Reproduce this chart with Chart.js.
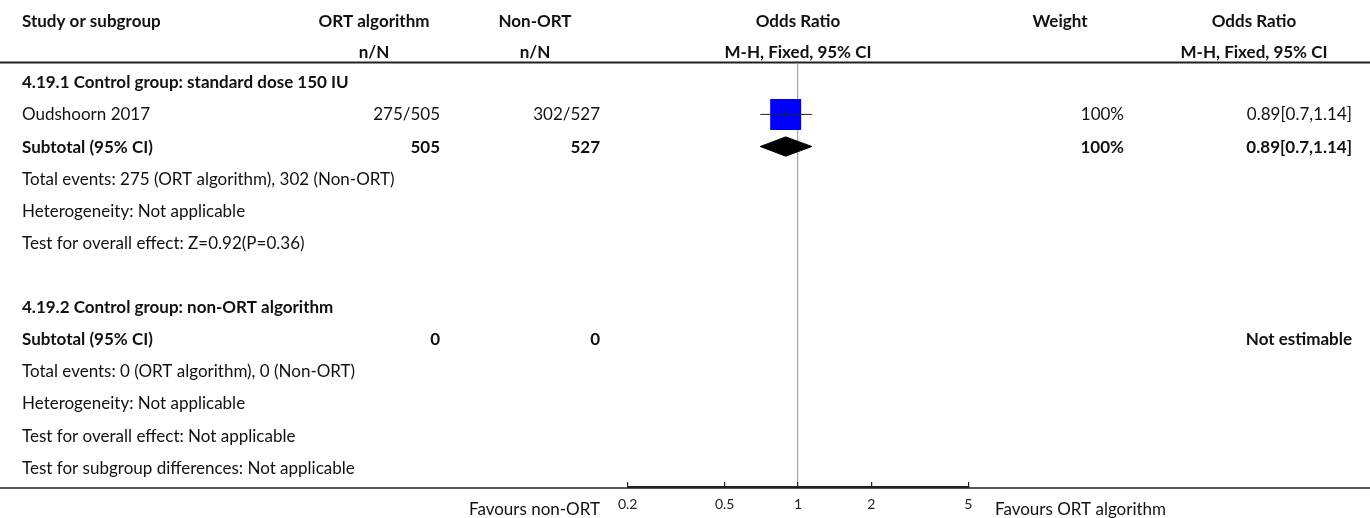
<!DOCTYPE html>
<html>
<head>
<meta charset="utf-8">
<script src="https://cdn.jsdelivr.net/npm/chart.js@4.4.0/dist/chart.umd.min.js"></script>
<style>
  body { margin: 0; background: #fff; }
  #wrap { width: 1370px; height: 518px; position: relative; }
</style>
</head>
<body>
<div id="wrap"><canvas id="forest"></canvas></div>
<script>
// table rows, top to bottom
var rowLabels = [
  "4.19.1 Control group: standard dose 150 IU",
  "Oudshoorn 2017",
  "Subtotal (95% CI)",
  "Total events: 275 (ORT algorithm), 302 (Non-ORT)",
  "Heterogeneity: Not applicable",
  "Test for overall effect: Z=0.92(P=0.36)",
  "",
  "4.19.2 Control group: non-ORT algorithm",
  "Subtotal (95% CI)",
  "Total events: 0 (ORT algorithm), 0 (Non-ORT)",
  "Heterogeneity: Not applicable",
  "Test for overall effect: Not applicable",
  "Test for subgroup differences: Not applicable"
];
var rowBold = [true, false, true, false, false, false, false, true, true, false, false, false, false];
var ortCounts    = ["", "275/505", "505", "", "", "", "", "", "0", "", "", "", ""];
var nonOrtCounts = ["", "302/527", "527", "", "", "", "", "", "0", "", "", "", ""];
var weights      = ["", "100%", "100%", "", "", "", "", "", "", "", "", "", ""];
var orTexts      = ["", "0.89[0.7,1.14]", "0.89[0.7,1.14]", "", "", "", "", "", "Not estimable", "", "", "", ""];

// single studies
var studyRows = [1];
var studyOR = [0.89];
var studyLow = [0.7];
var studyHigh = [1.14];
var studyWeight = [100];

// pooled (subtotal) estimates
var totalRows = [2];
var totalOR = [0.89];
var totalLow = [0.7];
var totalHigh = [1.14];

var tickValues = [0.2, 0.5, 1, 2, 5];
var tickLabels = ["0.2", "0.5", "1", "2", "5"];

var FONT = "Lato, 'Noto Sans', sans-serif";
var FS = 17;

function txt(ctx, s, x, y, align, bold, size) {
  size = size || FS;
  ctx.font = (bold ? "bold " : "") + size + "px " + FONT;
  ctx.textAlign = align;
  ctx.textBaseline = "alphabetic";
  ctx.fillStyle = "#111";
  ctx.fillText(s, x, y + Math.round(size * 0.36));
}

var tablePlugin = {
  id: "forestTable",
  beforeDraw: function (chart) {
    var ctx = chart.ctx, w = chart.width;
    ctx.save();
    ctx.strokeStyle = "#222";
    ctx.lineWidth = 2;
    ctx.beginPath(); ctx.moveTo(0, 62.5); ctx.lineTo(w, 62.5); ctx.stroke();
    ctx.lineWidth = 1.5;
    ctx.beginPath(); ctx.moveTo(0, chart.chartArea.bottom + 1); ctx.lineTo(w, chart.chartArea.bottom + 1); ctx.stroke();
    ctx.restore();
  },
  afterDraw: function (chart) {
    var ctx = chart.ctx, y = chart.scales.y, x = chart.scales.x;
    var mid = x.getPixelForValue(1);
    ctx.save();
    // header
    txt(ctx, "Study or subgroup", 22, 21, "left", true);
    txt(ctx, "ORT algorithm", 374, 21, "center", true);
    txt(ctx, "n/N", 374, 52, "center", true);
    txt(ctx, "Non-ORT", 535, 21, "center", true);
    txt(ctx, "n/N", 535, 52, "center", true);
    txt(ctx, "Odds Ratio", mid, 21, "center", true);
    txt(ctx, "M-H, Fixed, 95% CI", mid, 52, "center", true);
    txt(ctx, "Weight", 1060, 21, "center", true);
    txt(ctx, "Odds Ratio", 1254, 21, "center", true);
    txt(ctx, "M-H, Fixed, 95% CI", 1254, 52, "center", true);
    // rows
    for (var i = 0; i < rowLabels.length; i++) {
      var py = y.getPixelForValue(i);
      var b = rowBold[i];
      txt(ctx, rowLabels[i], 22, py, "left", b);
      txt(ctx, ortCounts[i], 440, py, "right", b);
      txt(ctx, nonOrtCounts[i], 600, py, "right", b);
      txt(ctx, weights[i], 1124, py, "right", b);
      txt(ctx, orTexts[i], 1352, py, "right", b);
    }
    // footer
    var fy = chart.chartArea.bottom + 22;
    txt(ctx, "Favours non-ORT", 600, fy, "right", false);
    txt(ctx, "Favours ORT algorithm", 995, fy, "left", false);
    ctx.restore();
  }
};

var datasets = [];
for (var s = 0; s < studyRows.length; s++) {
  datasets.push({
    data: [{ x: studyOR[s], y: studyRows[s] }],
    pointStyle: "rect",
    pointRadius: 31 * Math.sqrt(studyWeight[s] / 100) / Math.SQRT2,
    backgroundColor: "#0000ff",
    borderWidth: 0,
    order: 3
  });
  datasets.push({
    data: [{ x: studyLow[s], y: studyRows[s] }, { x: studyHigh[s], y: studyRows[s] }],
    showLine: true,
    borderColor: "#222",
    borderWidth: 1,
    pointRadius: 0,
    order: 2
  });
  datasets.push({
    data: [{ x: studyOR[s], y: studyRows[s] }],
    pointStyle: "line",
    rotation: 90,
    pointRadius: 4,
    borderColor: "#222",
    borderWidth: 1,
    order: 1
  });
}
for (var t = 0; t < totalRows.length; t++) {
  var r = totalRows[t];
  datasets.push({
    data: [
      { x: totalLow[t], y: r },
      { x: totalOR[t], y: r - 0.3 },
      { x: totalHigh[t], y: r },
      { x: totalOR[t], y: r + 0.3 },
      { x: totalLow[t], y: r }
    ],
    showLine: true,
    fill: "shape",
    backgroundColor: "#000",
    borderColor: "#000",
    borderWidth: 1,
    pointRadius: 0,
    tension: 0,
    order: 3
  });
}

new Chart(document.getElementById("forest"), {
  type: "scatter",
  data: { datasets: datasets },
  options: {
    responsive: true,
    maintainAspectRatio: false,
    animation: false,
    events: [],
    layout: { padding: { left: 627.7, right: 401.7, top: 63, bottom: 0 } },
    plugins: { legend: { display: false }, tooltip: { enabled: false } },
    scales: {
      x: {
        type: "logarithmic",
        min: 0.2,
        max: 5,
        position: "bottom",
        afterBuildTicks: function (sc) { sc.ticks = tickValues.map(function (v) { return { value: v }; }); },
        afterFit: function (sc) { sc.height = 31; },
        ticks: {
          autoSkip: false,
          maxRotation: 0,
          padding: 14,
          color: "#222",
          font: { family: FONT, size: 14 },
          callback: function (v) { var i = tickValues.indexOf(v); return i < 0 ? "" : tickLabels[i]; }
        },
        grid: {
          color: function (c) { return c.tick && c.tick.value === 1 ? "#a6a6a6" : "rgba(0,0,0,0)"; },
          lineWidth: 1.2,
          tickColor: "#222",
          tickLength: -5
        },
        border: { color: "#222", width: 2 }
      },
      y: { type: "linear", reverse: true, min: -0.6, max: 12.6, display: false }
    }
  },
  plugins: [tablePlugin]
});
</script>
</body>
</html>
